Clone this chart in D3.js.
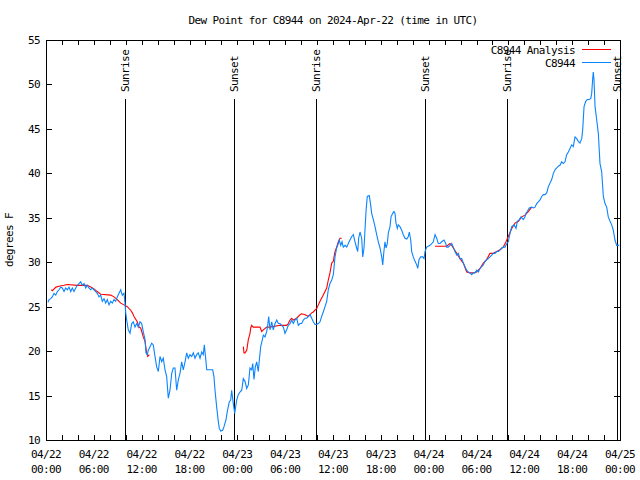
<!DOCTYPE html>
<html>
<head>
<meta charset="utf-8">
<script src="https://cdn.jsdelivr.net/npm/d3@7"></script>
<style>
  body { margin: 0; background: #fff; }
  text { font-family: "DejaVu Sans Mono", monospace; font-size: 11px; letter-spacing: -0.6px; fill: #000; }
</style>
</head>
<body>
<div id="page-container"></div>
<script>

  // hours after 2024-04-22 00:00 UTC, and dew point (F)
  var obsHours = [0.25,0.38,0.59,0.79,1.00,1.22,1.42,1.63,1.84,2.04,2.26,2.47,2.67,2.89,3.10,3.30,3.51,3.73,3.93,4.14,
    4.35,4.55,4.77,4.98,5.18,5.39,5.61,5.81,6.02,6.23,6.43,6.65,6.86,7.06,7.28,7.49,7.69,7.90,8.12,8.32,
    8.53,8.74,8.94,9.16,9.37,9.57,9.78,9.91,10.00,10.12,10.32,10.54,10.75,10.95,11.16,11.38,11.58,11.79,12.00,12.20,
    12.42,12.54,12.71,12.83,13.05,13.26,13.46,13.67,13.89,14.09,14.30,14.51,14.71,14.93,15.14,15.34,15.55,15.77,15.97,16.18,
    16.39,16.60,16.81,17.02,17.22,17.44,17.65,17.85,18.06,18.28,18.48,18.69,18.90,19.10,19.32,19.53,19.73,19.86,20.07,20.16,
    20.91,21.07,21.20,21.41,21.61,21.74,21.91,22.16,22.33,22.58,22.74,22.99,23.17,23.29,23.49,23.67,23.92,24.12,24.33,24.55,
    24.75,24.96,25.18,25.38,25.59,25.80,25.93,26.09,26.25,26.43,26.63,26.76,26.93,27.09,27.26,27.47,27.68,27.81,27.93,28.10,
    28.31,28.51,28.73,28.94,29.14,29.35,29.57,29.77,29.98,30.19,30.39,30.61,30.82,31.02,31.23,31.45,31.65,31.86,32.07,32.28,
    32.49,32.70,32.90,33.12,33.33,33.53,33.74,33.96,34.16,34.37,34.58,34.78,35.00,35.21,35.41,35.62,35.84,36.04,36.16,36.25,
    36.46,36.67,36.79,36.97,37.13,37.29,37.51,37.72,37.92,38.13,38.35,38.55,38.76,38.97,39.10,39.22,39.39,39.60,39.73,39.89,
    40.01,40.14,40.30,40.55,40.73,40.85,41.06,41.27,41.48,41.68,41.90,42.11,42.24,42.36,42.52,42.65,42.81,42.94,43.15,43.28,
    43.49,43.65,43.78,43.90,44.07,44.19,44.40,44.62,44.82,45.03,45.25,45.45,45.57,45.75,45.87,46.07,46.29,46.50,46.63,46.79,
    47.00,47.25,47.42,47.54,47.75,48.17,48.38,48.58,48.80,49.01,49.21,49.42,49.63,49.92,50.14,50.26,50.46,50.68,50.89,51.09,
    51.30,51.52,51.72,51.93,52.14,52.35,52.56,52.77,52.97,53.18,53.40,53.60,53.81,54.02,54.23,54.44,54.65,54.85,55.07,55.28,
    55.48,55.69,55.91,56.11,56.32,56.53,56.74,56.95,57.16,57.36,57.58,57.79,57.99,58.21,58.42,58.71,58.96,59.12,59.37,59.58,
    59.87,60.08,60.21,60.37,60.62,60.92,61.13,61.34,61.55,61.75,61.97,62.18,62.38,62.59,62.81,63.01,63.22,63.43,63.64,63.85,
    64.06,64.26,64.47,64.69,64.89,65.10,65.31,65.52,65.73,65.94,66.14,66.36,66.57,66.77,66.98,67.20,67.32,67.49,67.70,67.90,
    68.11,68.33,68.45,68.58,68.65,68.74,68.87,69.08,69.28,69.49,69.70,69.91,70.12,70.33,70.53,70.75,70.96,71.16,71.37,71.58,71.91];

  var obsDew = [25.5,25.8,25.9,26.1,26.5,26.3,26.7,26.9,27.2,27.1,26.7,27.1,26.9,27.2,26.7,27.1,26.7,27.1,27.4,27.6,
    27.8,27.4,27.6,27.1,27.4,27.1,26.9,27.1,26.9,26.7,26.5,26.1,26.3,25.6,25.9,25.4,25.8,25.2,25.6,25.4,
    25.8,25.6,26.1,26.5,26.9,26.3,26.5,25.4,24.3,23.5,22.4,22.0,23.1,23.3,22.7,23.1,22.7,23.3,23.1,22.2,
    21.3,19.8,19.6,20.1,20.5,20.9,20.7,19.4,18.2,17.7,19.4,18.8,19.2,17.9,17.1,14.7,15.6,17.5,18.1,18.1,
    15.6,16.8,17.5,18.8,17.9,18.8,19.8,19.2,19.6,19.4,19.8,19.2,19.6,19.8,19.2,19.9,19.6,20.7,18.8,17.9,
    17.9,17.1,15.6,13.7,12.1,11.3,11.0,11.1,11.5,12.3,13.2,14.3,14.5,15.6,14.1,13.0,14.5,15.1,15.4,15.6,
    16.9,16.6,15.8,16.2,18.1,17.9,18.6,16.8,18.2,18.8,17.7,19.0,20.5,21.1,21.8,21.6,22.2,22.9,23.9,22.4,
    23.3,22.4,23.1,23.5,23.1,23.1,22.9,22.7,22.0,22.4,22.9,23.1,23.5,23.1,23.5,23.7,22.9,23.1,23.1,23.5,
    23.7,23.7,23.9,24.1,23.7,23.3,23.0,23.0,23.1,23.3,23.9,24.4,25.0,25.6,26.9,27.6,28.0,28.6,29.7,30.6,
    31.6,32.1,32.5,31.9,32.3,31.7,31.9,31.7,32.1,32.5,32.9,33.1,32.3,31.6,31.2,32.7,33.4,32.7,30.6,31.6,
    33.6,35.7,37.4,37.5,36.4,35.5,34.8,34.0,33.1,32.3,31.6,30.6,29.7,31.0,32.3,31.6,32.1,33.3,34.0,35.1,
    35.5,35.7,35.5,34.4,33.8,34.2,34.0,33.6,33.1,32.7,32.6,32.9,33.4,32.5,31.2,30.6,30.1,29.7,29.3,30.3,
    30.6,30.6,30.4,31.2,31.7,31.9,32.1,32.3,33.1,32.7,32.1,32.1,32.3,32.5,32.1,31.7,31.7,31.9,32.1,31.7,
    31.2,30.8,31.0,30.4,30.4,29.9,29.5,29.1,28.9,28.8,28.6,28.8,28.8,29.1,28.9,29.3,29.5,29.7,30.1,30.3,
    30.4,30.6,30.8,31.0,31.0,31.2,31.2,31.4,31.6,31.7,31.7,32.1,32.3,33.3,34.0,34.2,33.8,34.6,34.8,35.1,
    34.8,35.1,35.5,35.7,36.1,36.2,36.1,36.2,36.6,36.8,37.0,37.4,37.6,37.6,37.8,38.5,38.9,39.3,40.0,40.4,
    40.6,40.8,40.9,41.3,41.1,41.3,42.1,42.4,42.8,43.2,43.0,44.1,43.9,43.6,43.4,43.9,44.9,47.5,48.1,48.3,
    48.3,48.4,49.0,50.7,51.4,50.5,47.5,46.0,44.5,41.1,40.2,37.4,36.6,36.2,35.1,34.6,34.2,33.6,32.5,31.9,31.9];

  // analysis, null = gap
  var anaHours = [0.66,0.79,1.25,1.63,2.26,2.67,3.93,5.18,5.61,6.02,6.43,6.86,8.12,8.53,8.94,9.37,9.78,10.20,10.62,10.83,
    11.04,11.45,11.67,11.88,12.20,12.42,12.63,12.76,12.96, null,
    24.75,24.84,24.96,25.18,25.38,25.59,25.68,25.80,26.00,26.84,27.06,27.26,27.68,28.10,29.35,30.19,30.39,30.61,30.82,31.02,
    31.45,31.86,32.07,32.49,32.70,32.90,33.12,33.33,33.53,33.74,33.96,34.16,34.37,34.78,35.21,35.41,35.62,35.84,36.04,36.25,
    36.46,36.67,36.88,37.09, null,
    48.80,50.26,50.68,50.89,51.09,51.52,51.93,52.35,52.77,53.18,53.60,54.02,54.44,54.85,55.28,55.69,56.11,56.53,56.95,57.36,
    57.70,57.99,58.42,58.83,59.25,59.67,60.08,60.50,60.92];

  var anaDew = [26.9,26.8,27.2,27.3,27.4,27.5,27.4,27.4,27.2,27.0,26.7,26.4,26.3,26.1,25.8,25.4,25.2,25.0,24.6,24.3,
    23.9,23.3,22.7,22.6,21.6,21.1,19.8,19.4,19.6, null,
    20.5,19.8,19.8,20.1,21.3,22.0,22.6,22.9,22.7,22.7,22.2,22.4,22.7,22.7,22.9,22.9,23.1,23.5,23.7,23.5,
    23.7,24.1,24.2,24.1,24.0,23.9,24.1,24.3,24.4,24.6,24.8,25.2,25.6,26.3,27.1,28.0,28.8,29.9,30.1,31.2,
    31.7,32.3,32.7,32.7, null,
    31.8,31.8,32.1,31.9,31.6,31.0,30.4,29.9,28.9,28.8,28.8,28.9,29.3,29.9,30.3,31.0,31.0,31.2,31.4,31.7,
    32.3,32.9,33.8,34.4,34.6,35.1,35.3,35.7,36.2];

  var sunHours  = [9.95, 23.6, 33.88, 47.55, 57.85, 71.6];
  var sunLabels = ["Sunrise", "Sunset", "Sunrise", "Sunset", "Sunrise", "Sunset"];

  var yTicks = [10, 15, 20, 25, 30, 35, 40, 45, 50, 55];

  var start = Date.UTC(2024, 3, 22);
  var hr = h => new Date(start + h * 3600000);

  var margin = {top: 40, right: 20, bottom: 40, left: 46},
      width = 640,
      height = 480;

  var x = d3.scaleUtc()
            .domain([hr(0), hr(72)])
            .range([margin.left, width - margin.right]);
  var y = d3.scaleLinear()
            .domain([10, 55])
            .range([height - margin.bottom, margin.top]);

  var svg = d3.select("#page-container").append("svg")
              .attr("width", width)
              .attr("height", height);

  var x0 = x.range()[0], x1 = x.range()[1], y0 = y.range()[0], y1 = y.range()[1];

  // title + y label
  svg.append("text").attr("x", (x0 + x1) / 2).attr("y", 24).attr("text-anchor", "middle")
     .text("Dew Point for C8944 on 2024-Apr-22 (time in UTC)");
  svg.append("text").attr("transform", "translate(13,240) rotate(-90)").attr("text-anchor", "middle")
     .text("degrees F");

  // ticks (inward, mirrored)
  var tk = svg.append("g").attr("stroke", "#000").attr("shape-rendering", "crispEdges");
  var xt = x.ticks(d3.utcHour.every(2));
  xt.forEach(t => {
    var px = Math.round(x(t)) + 0.5;
    tk.append("line").attr("x1", px).attr("x2", px).attr("y1", y0).attr("y2", y0 - 5);
    tk.append("line").attr("x1", px).attr("x2", px).attr("y1", y1).attr("y2", y1 + 5);
  });
  yTicks.forEach(v => {
    var py = Math.round(y(v)) + 0.5;
    tk.append("line").attr("x1", x0).attr("x2", x0 + 6).attr("y1", py).attr("y2", py);
    tk.append("line").attr("x1", x1).attr("x2", x1 - 6).attr("y1", py).attr("y2", py);
  });

  svg.append("g").selectAll("text").data(yTicks).enter().append("text")
     .attr("x", x0 - 6).attr("y", d => y(d) + 4).attr("text-anchor", "end")
     .text(d => d);

  var fd = d3.utcFormat("%m/%d"), ft = d3.utcFormat("%H:%M");
  var xl = svg.append("g").selectAll("text").data(x.ticks(d3.utcHour.every(6))).enter().append("text")
              .attr("text-anchor", "middle");
  xl.append("tspan").attr("x", d => x(d)).attr("y", 458).text(d => fd(d));
  xl.append("tspan").attr("x", d => x(d)).attr("y", 473).text(d => ft(d));

  // sunrise / sunset markers
  var sun = svg.append("g").selectAll("g").data(d3.zip(sunHours, sunLabels)).enter().append("g");
  sun.append("line")
     .attr("x1", d => Math.round(x(hr(d[0]))) + 0.5).attr("x2", d => Math.round(x(hr(d[0]))) + 0.5)
     .attr("y1", 99).attr("y2", y0)
     .attr("stroke", "#000").attr("shape-rendering", "crispEdges");
  sun.append("text")
     .attr("transform", d => "translate(" + (x(hr(d[0])) + 4) + ",92) rotate(-90)")
     .text(d => d[1]);

  var line = d3.line()
               .defined(d => d[1] != null)
               .x(d => x(hr(d[0])))
               .y(d => y(d[1]));

  svg.append("path").datum(d3.zip(anaHours, anaDew))
     .attr("fill", "none").attr("stroke", "#ff0000").attr("stroke-width", 1.1)
     .attr("d", line);
  svg.append("path").datum(d3.zip(obsHours, obsDew))
     .attr("fill", "none").attr("stroke", "#0a84ff").attr("stroke-width", 1.1)
     .attr("d", line);

  // border
  svg.append("rect").attr("x", x0 + 0.5).attr("y", y1 + 0.5)
     .attr("width", x1 - x0).attr("height", y0 - y1)
     .attr("fill", "none").attr("stroke", "#000").attr("shape-rendering", "crispEdges");

  // legend
  var lg = [["C8944 Analysis", "#ff0000"], ["C8944", "#0a84ff"]];
  lg.forEach((l, i) => {
    var ly = 49.5 + i * 13;
    svg.append("text").attr("x", 575).attr("y", ly + 4).attr("text-anchor", "end").text(l[0]);
    svg.append("line").attr("x1", 582).attr("x2", 611).attr("y1", ly).attr("y2", ly)
       .attr("stroke", l[1]).attr("shape-rendering", "crispEdges");
  });

</script>
</body>
</html>
